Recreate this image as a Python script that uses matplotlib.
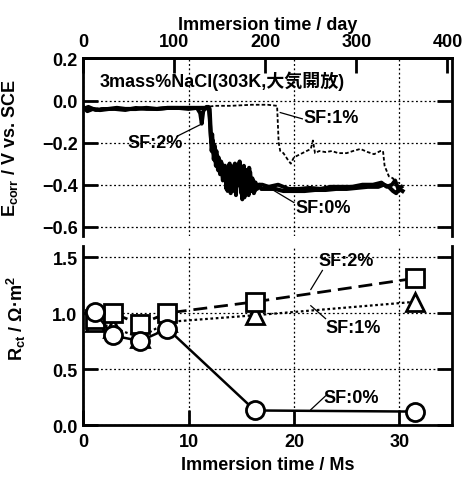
import matplotlib
matplotlib.use("Agg")
import matplotlib.pyplot as plt

plt.rcParams['font.family'] = ['Liberation Sans', 'Noto Sans CJK JP']
plt.rcParams['font.weight'] = 'bold'
plt.rcParams['axes.labelweight'] = 'bold'
plt.rcParams['mathtext.fontset'] = 'custom'
plt.rcParams['mathtext.rm'] = 'Liberation Sans:bold'
plt.rcParams['mathtext.it'] = 'Liberation Sans:bold'
plt.rcParams['mathtext.bf'] = 'Liberation Sans:bold'
plt.rcParams['mathtext.default'] = 'rm'
plt.rcParams['font.size'] = 13

# Ecorr traces (time in Ms, potential in V vs. SCE)
t_sf0 = [0.0, 0.4, 0.9, 1.6, 2.4, 3.2, 4.0, 5.0, 6.0, 7.0, 8.0, 9.0, 10.0, 11.0, 11.6,
         12.0, 12.1, 12.2, 12.3, 12.4, 12.5, 12.6, 12.7, 12.8, 12.9,
         13.0, 13.15, 13.3, 13.45, 13.6, 13.75, 13.9, 14.0, 14.1, 14.25,
         14.4, 14.55, 14.7, 14.85, 15.0, 15.15, 15.3, 15.45, 15.6, 15.75,
         15.9, 16.05, 16.2, 16.35, 16.5, 16.7, 16.9,
         17.5, 18.2, 19.0, 20.0, 21.0, 22.0, 23.0, 24.0, 25.0, 26.0, 27.0, 28.0,
         28.5, 29.0, 29.4, 29.7, 30.0, 30.3]
e_sf0 = [-0.03, -0.05, -0.04, -0.045, -0.04, -0.035, -0.04, -0.04, -0.035, -0.04,
         -0.035, -0.035, -0.035, -0.035, -0.035,
         -0.04, -0.15, -0.24, -0.19, -0.28, -0.22, -0.31, -0.26, -0.33, -0.28,
         -0.35, -0.30, -0.37, -0.31, -0.42, -0.33, -0.30, -0.44, -0.34, -0.40,
         -0.30, -0.41, -0.36, -0.29, -0.44, -0.35, -0.46, -0.33, -0.44, -0.32,
         -0.43, -0.37, -0.44, -0.39, -0.42, -0.40, -0.42,
         -0.42, -0.42, -0.43, -0.43, -0.43, -0.425, -0.425, -0.42, -0.42, -0.415,
         -0.41, -0.41, -0.40, -0.41, -0.43, -0.44, -0.42, -0.43]

t_sf2 = [0.0, 0.5, 1.2, 2.0, 3.0, 4.0, 5.0, 6.0, 7.0, 8.0, 9.0, 10.0, 10.8, 11.1,
         11.25, 11.4, 11.7,
         11.9, 12.0, 12.15, 12.25, 12.35, 12.45, 12.55, 12.65, 12.75, 12.85,
         12.95, 13.1, 13.25, 13.4, 13.55, 13.7, 13.85, 13.95, 14.05, 14.2,
         14.35, 14.5, 14.65, 14.8, 14.95, 15.1, 15.25, 15.4, 15.55, 15.7,
         15.85, 16.0, 16.15, 16.3, 16.45, 16.6, 16.8, 17.0,
         17.6, 18.5, 19.5, 20.5, 21.5, 22.5, 23.5, 24.5, 25.5, 26.5, 27.5, 28.3,
         28.8, 29.3, 29.6, 29.9, 30.2]
e_sf2 = [-0.04, -0.03, -0.045, -0.04, -0.04, -0.045, -0.035, -0.04, -0.04, -0.035,
         -0.035, -0.04, -0.035, -0.06, -0.11, -0.05, -0.03,
         -0.03, -0.08, -0.20, -0.16, -0.25, -0.21, -0.29, -0.24, -0.31, -0.27,
         -0.34, -0.29, -0.38, -0.32, -0.36, -0.43, -0.34, -0.38, -0.31, -0.43,
         -0.33, -0.45, -0.32, -0.40, -0.36, -0.47, -0.31, -0.43, -0.36, -0.45,
         -0.34, -0.42, -0.38, -0.43, -0.40, -0.41, -0.40, -0.40,
         -0.41, -0.40, -0.42, -0.42, -0.415, -0.42, -0.41, -0.41, -0.41, -0.40,
         -0.40, -0.39, -0.41, -0.40, -0.38, -0.42, -0.41]

t_sf1 = [0.0, 1.0, 2.0, 3.0, 4.0, 5.0, 6.0, 7.0, 8.0, 9.0, 10.0, 11.0, 11.8, 12.5,
         14.0, 16.0, 17.5, 18.4, 18.55, 18.7, 19.0, 19.4, 19.7, 20.0, 20.4, 20.8, 21.2,
         21.6, 21.8, 22.0, 22.4, 23.0, 23.6, 24.2, 25.0, 25.6, 26.3, 27.0, 27.6, 28.2,
         28.45, 28.6, 29.0, 29.4, 29.7, 30.0]
e_sf1 = [-0.035, -0.04, -0.035, -0.04, -0.04, -0.035, -0.04, -0.04, -0.035, -0.035,
         -0.04, -0.035, -0.03, -0.025, -0.025, -0.02, -0.02, -0.025, -0.20, -0.24,
         -0.25, -0.28, -0.30, -0.27, -0.26, -0.25, -0.24, -0.23, -0.19, -0.25,
         -0.24, -0.245, -0.24, -0.25, -0.25, -0.24, -0.23, -0.245, -0.255, -0.24,
         -0.24, -0.31, -0.36, -0.37, -0.40, -0.39]

# Rct data (Ms, ohm m2)
rct_time = [1.1, 2.8, 5.4, 8.0, 16.3, 31.5]
rct_sf0 = [1.01, 0.80, 0.75, 0.86, 0.13, 0.12]
rct_sf1 = [0.92, 0.87, 0.78, 0.92, 0.98, 1.10]
rct_sf2 = [0.95, 1.00, 0.90, 1.00, 1.10, 1.31]

MS_PER_DAY = 0.0864

fig = plt.figure(figsize=(4.67, 4.81), dpi=100)
ax1 = fig.add_axes([0.178, 0.5073, 0.790, 0.369])
ax2 = fig.add_axes([0.178, 0.1143, 0.790, 0.3726])

grid_kw = dict(color='black', linestyle=(0, (1.5, 2.0)), linewidth=0.9)

# ---- top panel: Ecorr ----
ax1.plot(t_sf1, e_sf1, color='black', linestyle=(0, (2.0, 1.2)), linewidth=1.3)
ax1.plot(t_sf0, e_sf0, color='black', linewidth=3.0, solid_joinstyle='round')
ax1.plot(t_sf2, e_sf2, color='black', linewidth=2.8, solid_joinstyle='round')

ax1.set_xlim(0, 35)
ax1.set_ylim(-0.644, 0.2)
ax1.set_xticks([0, 10, 20, 30])
ax1.set_yticks([0.2, 0.0, -0.2, -0.4, -0.6])
ax1.set_yticklabels(['0.2', '0.0', '\u22120.2', '\u22120.4', '\u22120.6'])
ax1.tick_params(axis='x', bottom=False, top=False, labelbottom=False)
ax1.tick_params(axis='y', direction='in', length=11, width=2, left=True, right=True, pad=4)
ax1.grid(True, **grid_kw)
ax1.spines['bottom'].set_visible(False)
for s in ['left', 'right', 'top']:
    ax1.spines[s].set_linewidth(2)
ax1.set_ylabel('E$_{corr}$ / V vs. SCE')
ax1.yaxis.set_label_coords(-0.17, 0.5)

top = ax1.secondary_xaxis('top', functions=(lambda x: x / MS_PER_DAY, lambda d: d * MS_PER_DAY))
top.set_xticks([0, 100, 200, 300, 400])
top.tick_params(direction='in', length=11, width=2, pad=6)
top.spines['top'].set_linewidth(2)
top.set_xlabel('Immersion time / day', labelpad=3)

ax1.text(1.6, 0.098, '3mass%NaCl(303K,大気開放)', va='center', ha='left')
ax1.text(20.9, -0.082, 'SF:1%', va='center', ha='left')
ax1.plot([18.7, 20.8], [-0.057, -0.087], color='black', linewidth=0.9)
ax1.text(4.2, -0.20, 'SF:2%', va='center', ha='left')
ax1.plot([8.9, 11.1], [-0.17, -0.115], color='black', linewidth=0.9)
ax1.text(20.1, -0.509, 'SF:0%', va='center', ha='left')
ax1.plot([17.4, 20.0], [-0.407, -0.485], color='black', linewidth=0.9)

# ---- bottom panel: Rct ----
mk = dict(markersize=13, markerfacecolor='white', markeredgecolor='black', markeredgewidth=2)
ax2.plot(rct_time, rct_sf1, color='black', linestyle=(0, (1.2, 1.2)), linewidth=1.6, marker='^', **mk)
ax2.plot(rct_time, rct_sf2, color='black', linestyle=(0, (5, 2.5)), linewidth=2, marker='s', **mk)
ax2.plot(rct_time, rct_sf0, color='black', linestyle='-', linewidth=1.8, marker='o', **mk)

ax2.set_xlim(0, 35)
ax2.set_ylim(0, 1.6)
ax2.set_xticks([0, 10, 20, 30])
ax2.set_yticks([0.0, 0.5, 1.0, 1.5])
ax2.tick_params(axis='both', direction='in', length=11, width=2)
ax2.tick_params(axis='y', left=True, right=True, pad=4)
ax2.tick_params(axis='x', pad=6)
ax2.grid(True, **grid_kw)
ax2.spines['top'].set_visible(False)
for s in ['left', 'right', 'bottom']:
    ax2.spines[s].set_linewidth(2)
ax2.set_xlabel('Immersion time / Ms', labelpad=4)
ax2.set_ylabel('R$_{ct}$ / Ω·m$^2$')
ax2.yaxis.set_label_coords(-0.15, 0.6)

ax2.text(22.3, 1.47, 'SF:2%', va='center', ha='left')
ax2.plot([22.7, 21.6], [1.38, 1.21], color='black', linewidth=0.9)
ax2.text(23.0, 0.875, 'SF:1%', va='center', ha='left')
ax2.plot([21.6, 23.0], [1.065, 0.95], color='black', linewidth=0.9)
ax2.text(22.8, 0.25, 'SF:0%', va='center', ha='left')
ax2.plot([23.0, 21.6], [0.26, 0.137], color='black', linewidth=0.9)

fig.savefig('out.png', dpi=100)
